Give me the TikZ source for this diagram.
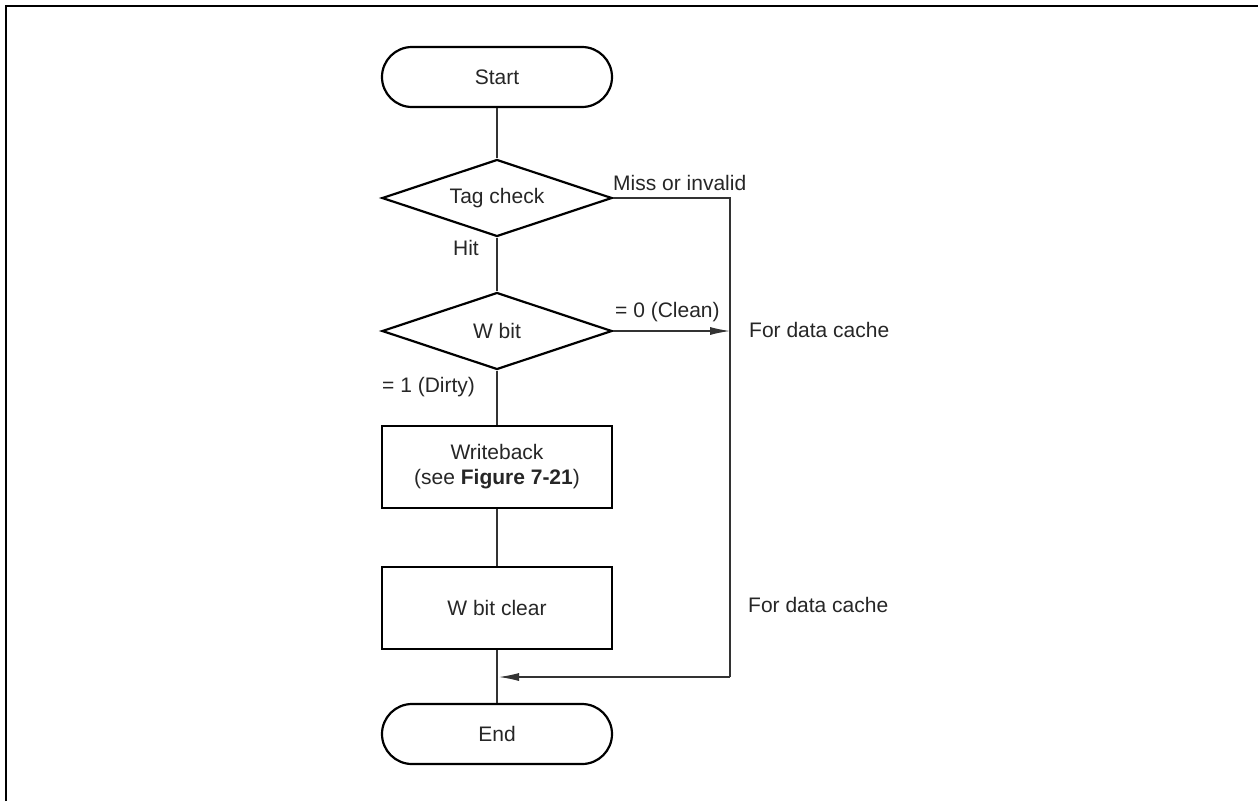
\documentclass[tikz,border=0pt]{standalone}
\usepackage{fontspec}
\setmainfont{Liberation Sans}
\usetikzlibrary{shapes.geometric,arrows.meta}
\begin{document}
\begin{tikzpicture}[x=1pt,y=-1pt,
  every node/.style={font=\fontsize{21}{25}\selectfont, text=black!85},
  term/.style={draw, line width=2.2pt, rounded corners=30pt, minimum width=230pt, minimum height=60pt, inner sep=0pt},
  dec/.style={draw, diamond, line width=2.2pt, minimum width=230pt, minimum height=77pt, inner sep=0pt, aspect=3},
  proc/.style={draw, line width=2.2pt, minimum width=230pt, minimum height=82pt, inner sep=0pt, align=center},
  conn/.style={line width=1.1pt, draw=black!80},
  arr/.style={conn, -{Latex[length=20pt,width=8pt]}},
  lbl/.style={inner sep=0pt}
]
\useasboundingbox (0,0) rectangle (1258,801);
\draw[line width=2pt] (6,801) -- (6,6) -- (1258,6);

\node[term] (start) at (497,77) {Start};
\node[dec] (tag) at (497,198) {Tag check};
\node[dec] (wbit) at (497,331) {W bit};
\node[proc] (wb) at (497,467) {Writeback\\(see \textbf{Figure 7-21})};
\node[proc] (clr) at (497,608) {W bit clear};
\node[term] (end) at (497,734) {End};

\coordinate (c1) at (730,198);
\coordinate (c2) at (730,331);
\coordinate (c3) at (730,677);
\coordinate (c4) at (499,677);

\draw[conn] (start.south) -- (tag.north);
\draw[conn] (tag.south) -- (wbit.north);
\draw[conn] (wbit.south) -- (wb.north);
\draw[conn] (wb.south) -- (clr.north);
\draw[conn] (clr.south) -- (end.north);
\draw[conn] (tag.east) -- (c1) -- (c3);
\draw[arr] (c3) -- (c4);
\draw[arr] (wbit.east) -- (c2);

\node[lbl, anchor=base west] (miss) at (613,190) {Miss or invalid};
\node[lbl, anchor=base east] (hit) at (479,255) {Hit};
\node[lbl, anchor=base west] (clean) at (615,317) {= 0 (Clean)};
\node[lbl, anchor=base west] (dirty) at (382,392) {= 1 (Dirty)};
\node[lbl, anchor=base west] (dc1) at (749,337) {For data cache};
\node[lbl, anchor=base west] (dc2) at (748,612) {For data cache};
\end{tikzpicture}
\end{document}
